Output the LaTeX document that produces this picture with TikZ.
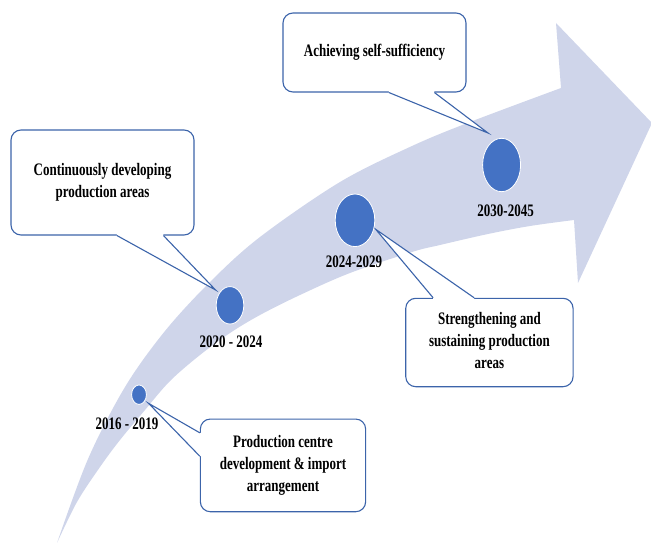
\documentclass[tikz,border=0pt]{standalone}
\usepackage{fontspec}
\setmainfont{Liberation Serif}
\usepackage{graphicx}
\usetikzlibrary{calc,shapes.geometric}
\definecolor{band}{RGB}{207,213,234}
\definecolor{dot}{RGB}{68,114,196}
\definecolor{edgeblue}{RGB}{60,100,170}
\newcommand{\sy}[1]{\scalebox{1}[1.35]{\begin{tabular}{@{}c@{}}#1\end{tabular}}}
\begin{document}
\begin{tikzpicture}[x=1pt,y=-1pt,
  box/.style={draw=edgeblue, line width=1.1pt, fill=white, rounded corners=10pt, inner sep=0pt,
    font=\bfseries\fontsize{13}{16.3}\selectfont},
  yr/.style={font=\bfseries\fontsize{13}{16.3}\selectfont, inner sep=0pt},
  dotn/.style={ellipse, fill=dot, draw=white, line width=0.8pt, inner sep=0pt, outer sep=0pt},
  ptr/.style={draw=edgeblue, line width=1.1pt, line join=miter}]
\useasboundingbox (0,0) rectangle (651,543);
% big curved arrow
\fill[band] plot[smooth, tension=0.55] coordinates {(57,543) (88,459) (125,387) (165,331) (210,282) (260,237) (340,182) (412,146) (470,122) (561,88)}
  -- (556,23) -- (652,123) -- (578,283) -- (574,220)
  -- plot[smooth, tension=0.55] coordinates {(574,220) (530,226) (488,234) (440,245) (412,252) (350,273) (300,295) (260,315) (230,333) (200,355) (170,381) (145,410) (120,440) (100,467) (77,502) (57,543)}
  -- cycle;
% callout boxes
\node[box, minimum width=183pt, minimum height=79pt] (A) at (374.5,52.5) {\sy{Achieving self-sufficiency}};
\node[box, minimum width=183pt, minimum height=105pt] (B) at (102.5,182.5) {\sy{Continuously developing\\production areas}};
\node[box, minimum width=165.3pt, minimum height=92.7pt] (C) at (283,465.4) {\sy{Production centre\\development \& import\\arrangement}};
\node[box, minimum width=167.3pt, minimum height=88.4pt] (D) at (489.4,342.5) {\sy{Strengthening and\\sustaining production\\areas}};
% pointer tips
\coordinate (tA) at (488,133);
\coordinate (tB) at (215.6,290);
\coordinate (tC) at (148.5,403.3);
\coordinate (tD) at (375.7,229.3);
% pointers
\fill[white] ($(A.south west)+(106.5,-2)$) -- ($(A.south west)+(106.5,0)$) -- (tA) -- ($(A.south west)+(152,0)$) -- ($(A.south west)+(152,-2)$) -- cycle;
\draw[ptr] ($(A.south west)+(106.5,0)$) -- (tA) -- ($(A.south west)+(152,0)$);
\fill[white] ($(B.south west)+(106.5,-2)$) -- ($(B.south west)+(106.5,0)$) -- (tB) -- ($(B.south west)+(153,0)$) -- ($(B.south west)+(153,-2)$) -- cycle;
\draw[ptr] ($(B.south west)+(106.5,0)$) -- (tB) -- ($(B.south west)+(153,0)$);
\fill[white] ($(C.north west)+(2,14.3)$) -- ($(C.north west)+(0,14.3)$) -- (tC) -- ($(C.north west)+(0,37.7)$) -- ($(C.north west)+(2,37.7)$) -- cycle;
\draw[ptr] ($(C.north west)+(0,14.3)$) -- (tC) -- ($(C.north west)+(0,37.7)$);
\fill[white] ($(D.north west)+(27.9,2)$) -- ($(D.north west)+(27.9,0)$) -- (tD) -- ($(D.north west)+(68.9,0)$) -- ($(D.north west)+(68.9,2)$) -- cycle;
\draw[ptr] ($(D.north west)+(27.9,0)$) -- (tD) -- ($(D.north west)+(68.9,0)$);
% milestone dots
\node[dotn, minimum width=14.8pt, minimum height=19.4pt] (c1) at (139,394.7) {};
\node[dotn, minimum width=27.6pt, minimum height=37.4pt] (c2) at (230,305.3) {};
\node[dotn, minimum width=39.6pt, minimum height=52.6pt] (c3) at (355,220.3) {};
\node[dotn, minimum width=38pt, minimum height=53.4pt] (c4) at (501.6,165) {};
% year labels
\node[yr] (l1) at (127,425) {\sy{2016 - 2019}};
\node[yr] (l2) at (231,342.7) {\sy{2020 - 2024}};
\node[yr] (l3) at (354,262.7) {\sy{2024-2029}};
\node[yr] (l4) at (505.6,211.7) {\sy{2030-2045}};
\end{tikzpicture}
\end{document}
